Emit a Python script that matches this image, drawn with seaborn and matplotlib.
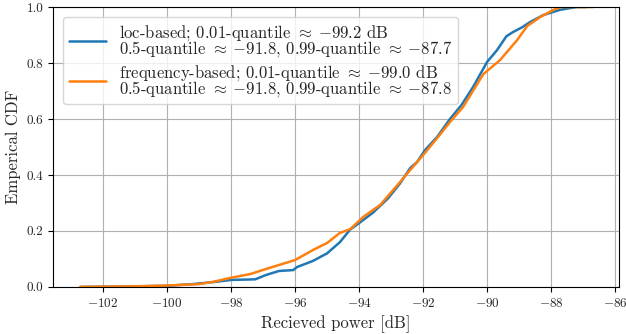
import numpy as np
import pandas as pd
import matplotlib
matplotlib.use("Agg")
import matplotlib.pyplot as plt
import seaborn as sns

loc_x = [-102.7, -101.0, -100.0, -99.2, -98.5, -98.0, -97.25, -96.9, -96.5, -96.06, -95.94,
         -95.44, -95.0, -94.6, -94.28, -94.0, -93.56, -93.1, -92.72, -92.4, -92.19, -91.94,
         -91.56, -91.16, -90.8, -90.44, -90.0, -89.69, -89.4, -89.2, -88.9, -88.66, -88.25,
         -87.72, -87.2, -86.9]
loc_y = [0.0, 0.002, 0.004, 0.01, 0.018, 0.025, 0.027, 0.043, 0.057, 0.06, 0.071,
         0.093, 0.12, 0.16, 0.205, 0.228, 0.266, 0.316, 0.37, 0.425, 0.446, 0.489,
         0.536, 0.6, 0.65, 0.714, 0.804, 0.846, 0.895, 0.91, 0.928, 0.946, 0.971,
         0.99, 1.0, 1.0]

freq_x = [-102.72, -101.0, -100.0, -99.0, -98.56, -98.03, -97.4, -96.8, -96.0, -95.44,
          -95.0, -94.6, -94.28, -93.87, -93.34, -92.8, -92.4, -92.0, -91.56, -91.16,
          -90.75, -90.12, -89.6, -89.06, -88.75, -88.34, -87.94, -87.7, -86.69]
freq_y = [0.0, 0.002, 0.005, 0.01, 0.018, 0.032, 0.046, 0.068, 0.096, 0.132,
          0.157, 0.193, 0.206, 0.25, 0.293, 0.364, 0.418, 0.471, 0.532, 0.589,
          0.643, 0.76, 0.81, 0.882, 0.932, 0.964, 0.989, 1.0, 1.0]

labels = [
    "loc-based; 0.01-quantile $\\approx\\;{-}99.2$ dB\n0.5-quantile $\\approx\\;{-}91.8$, 0.99-quantile $\\approx\\;{-}87.7$",
    "frequency-based; 0.01-quantile $\\approx\\;{-}99.0$ dB\n0.5-quantile $\\approx\\;{-}91.8$, 0.99-quantile $\\approx\\;{-}87.8$",
]
x_ticks = [-102, -100, -98, -96, -94, -92, -90, -88, -86]
y_ticks = [0.0, 0.2, 0.4, 0.6, 0.8, 1.0]

sns.set_style("ticks")
plt.rcParams["font.family"] = ["cmr10"]
plt.rcParams["mathtext.fontset"] = "cm"
plt.rcParams["axes.formatter.use_mathtext"] = True
plt.rcParams["axes.unicode_minus"] = True

df = pd.concat([
    pd.DataFrame({"x": loc_x, "y": loc_y, "series": labels[0], "order": range(len(loc_x))}),
    pd.DataFrame({"x": freq_x, "y": freq_y, "series": labels[1], "order": range(len(freq_x))}),
])

fig, ax = plt.subplots(figsize=(6.26, 3.34), dpi=100)
fig.subplots_adjust(left=0.085, right=0.989, top=0.979, bottom=0.141)

sns.lineplot(data=df, x="x", y="y", hue="series", sort=False, estimator=None,
             palette=["#1f77b4", "#ff7f0e"], linewidth=1.8, ax=ax)

ax.set_xlim(-103.56, -85.875)
ax.set_ylim(0, 1)
ax.set_xticks(x_ticks)
ax.set_yticks(y_ticks)
ax.set_yticklabels([f"{v:.1f}" for v in y_ticks])
ax.grid(True, color="#b0b0b0", linewidth=0.8)
ax.set_axisbelow(True)
for s in ax.spines.values():
    s.set_color("black")
    s.set_linewidth(0.8)
ax.tick_params(axis="both", labelsize=9.5, color="black", length=3.5, width=0.8)
ax.set_xlabel("Recieved power [dB]", fontsize=12)
ax.set_ylabel("Emperical CDF", fontsize=12)

h, l = ax.get_legend_handles_labels()
leg = ax.legend(h, l, loc="upper left", fontsize=12, frameon=True, framealpha=0.8,
                edgecolor="#cccccc", fancybox=True, handlelength=2.2, borderaxespad=0.6,
                labelspacing=0.25, borderpad=0.35)
for t in leg.get_texts():
    t.set_linespacing(0.72)

fig.savefig("out.png", dpi=100)
